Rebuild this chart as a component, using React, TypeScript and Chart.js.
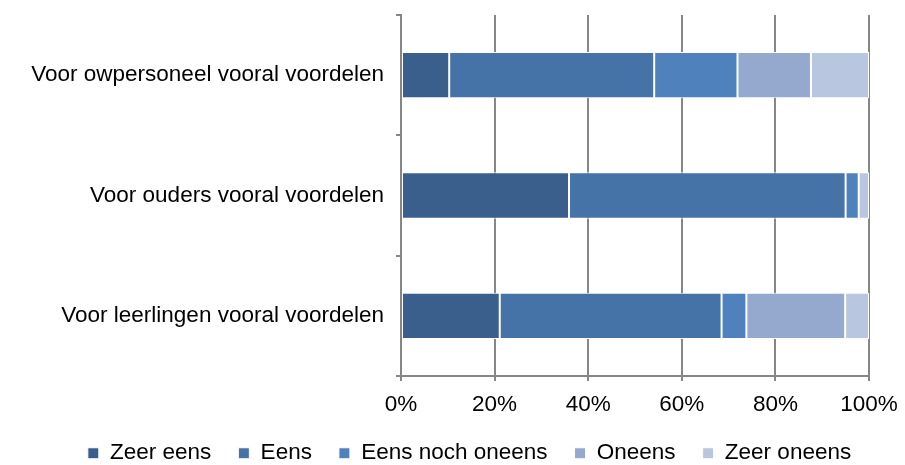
import React, { useEffect, useRef } from "react";
import { Chart, registerables } from "chart.js";

Chart.register(...registerables);

const categories = [
  "Voor owpersoneel vooral voordelen",
  "Voor ouders vooral voordelen",
  "Voor leerlingen vooral voordelen",
];
const seriesNames = ["Zeer eens", "Eens", "Eens noch oneens", "Oneens", "Zeer oneens"];
const zeerEens = [10.3, 35.9, 21.1];
const eens = [43.8, 59.1, 47.4];
const eensNochOneens = [17.8, 2.8, 5.3];
const oneens = [15.7, 0, 21.1];
const zeerOneens = [12.4, 2.2, 5.1];
const colors = ["#3A5F8C", "#4573A7", "#4F81BD", "#95A9CF", "#B9C6E0"];
const xTicks = [0, 20, 40, 60, 80, 100];

const legendShift = {
  id: "legendShift",
  afterLayout(chart: any) {
    const lg = chart.legend;
    if (lg) {
      lg.left += 35;
      lg.right += 35;
    }
  },
};

export default function App() {
  const ref = useRef<HTMLCanvasElement>(null);
  useEffect(() => {
    document.body.style.margin = "0";
    const values = [zeerEens, eens, eensNochOneens, oneens, zeerOneens];
    const font = { family: "'Liberation Sans', Arial, sans-serif", size: 22.5 };
    const chart = new Chart(ref.current!, {
      type: "bar",
      data: {
        labels: categories,
        datasets: seriesNames.map((name, i) => ({
          label: name,
          data: values[i],
          backgroundColor: colors[i],
          borderColor: "#ffffff",
          borderWidth: 1,
          borderSkipped: false,
          categoryPercentage: 1,
          barPercentage: 0.385,
        })),
      },
      options: {
        indexAxis: "y",
        animation: false,
        responsive: false,
        maintainAspectRatio: false,
        layout: { padding: { top: 15, right: 36, left: 0, bottom: 0 } },
        scales: {
          x: {
            stacked: true,
            min: 0,
            max: 100,
            afterBuildTicks: (s: any) => {
              s.ticks = xTicks.map((v) => ({ value: v }));
            },
            afterFit: (s: any) => {
              s.height = 39;
              s.paddingLeft = 0;
              s.paddingRight = 0;
            },
            ticks: {
              callback: (v: any) => v + "%",
              color: "#000",
              font,
              padding: 10,
              maxRotation: 0,
            },
            grid: { color: "#868686", lineWidth: 2, tickLength: 5, drawTicks: true },
            border: { color: "#868686", width: 2 },
          },
          y: {
            stacked: true,
            afterFit: (s: any) => {
              s.width = 401;
              s.paddingTop = 0;
              s.paddingBottom = 0;
            },
            ticks: { color: "#000", font, padding: 12 },
            grid: {
              drawOnChartArea: false,
              color: "#868686",
              lineWidth: 2,
              tickLength: 5,
              offset: true,
            },
            border: { color: "#868686", width: 2 },
          },
        },
        plugins: {
          legend: {
            position: "bottom",
            maxHeight: 50,
            labels: {
              color: "#000",
              font,
              boxWidth: 11,
              boxHeight: 11,
              padding: 27,
            },
          },
          tooltip: { enabled: false },
        },
      },
      plugins: [legendShift],
    });
    return () => chart.destroy();
  }, []);
  return <canvas ref={ref} width={905} height={465} style={{ display: "block" }} />;
}
